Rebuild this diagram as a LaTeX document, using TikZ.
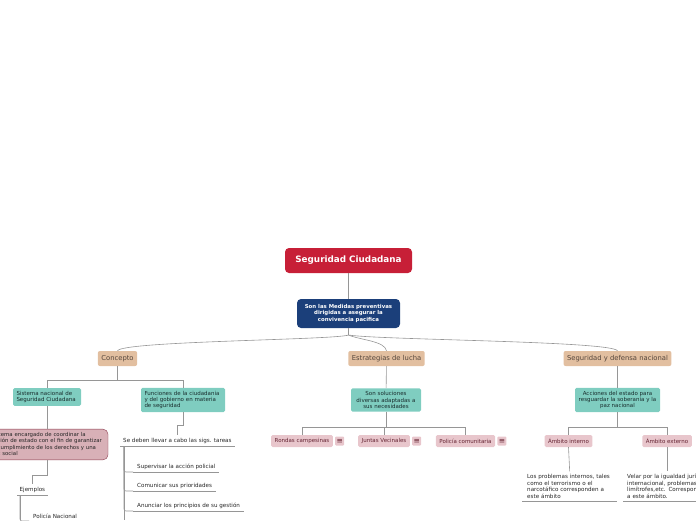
\documentclass[tikz,border=0pt]{standalone}
\usepackage{fontspec}
\setmainfont{DejaVu Sans}
\usepackage{tikz}
\usetikzlibrary{positioning}
\definecolor{rootred}{RGB}{199,31,55}
\definecolor{ideablue}{RGB}{27,63,122}
\definecolor{topicbeige}{RGB}{226,191,160}
\definecolor{topictext}{RGB}{85,70,60}
\definecolor{subteal}{RGB}{127,205,192}
\definecolor{subtext}{RGB}{25,45,45}
\definecolor{tagpink}{RGB}{232,198,204}
\definecolor{tagtext}{RGB}{100,35,50}
\definecolor{notepink}{RGB}{216,176,183}
\definecolor{notedraw}{RGB}{140,60,80}
\definecolor{linkgray}{RGB}{150,150,150}
\tikzset{
  root/.style={rectangle, rounded corners=4pt, fill=rootred, text=white,
               font=\bfseries\fontsize{8.8}{10}\selectfont, minimum width=127pt, minimum height=25pt, inner sep=0pt},
  idea/.style={rectangle, rounded corners=4pt, fill=ideablue, text=white, align=center,
               font=\bfseries\fontsize{5.4}{6.5}\selectfont, minimum width=103pt, minimum height=29pt, inner sep=0pt},
  topic/.style={rectangle, rounded corners=2pt, fill=topicbeige, text=topictext,
                font=\fontsize{6.8}{7.5}\selectfont, minimum height=15pt, inner xsep=3.5pt, inner ysep=0pt},
  subtopic/.style={rectangle, rounded corners=1.5pt, fill=subteal, text=subtext,
                   font=\fontsize{5.5}{6.4}\selectfont, inner xsep=3.5pt, inner ysep=3.1pt},
  tag/.style={rectangle, rounded corners=1.5pt, fill=tagpink, text=tagtext,
              font=\fontsize{5.5}{6}\selectfont, minimum height=12pt, inner xsep=3.5pt, inner ysep=0pt},
  tagicon/.style={rectangle, rounded corners=1pt, fill=tagpink, text=tagtext,
                  font=\fontsize{7.5}{7.5}\selectfont, minimum size=9pt, inner sep=0pt},
  note/.style={rectangle, rounded corners=5pt, fill=notepink, draw=notedraw, text=black!85, align=left,
               font=\fontsize{5.4}{6.5}\selectfont, inner xsep=4pt, inner ysep=3pt},
  leaf/.style={anchor=south west, inner xsep=4pt, inner ysep=2.5pt, text=black!85, align=left,
               font=\fontsize{5.6}{6.6}\selectfont,
               append after command={(\tikzlastnode.south west) edge[leafline] (\tikzlastnode.south east)}},
  leafline/.style={draw=linkgray, line width=0.6pt},
  link/.style={draw=linkgray, line width=0.6pt},
}
\begin{document}
\begin{tikzpicture}[x=1pt, y=-1pt]
  \useasboundingbox (0,0) rectangle (696,520);
  \clip (0,0) rectangle (696,520);

  % --- Centre ---
  \node[root] (root) at (348.5,260.5) {Seguridad Ciudadana};
  \node[idea] (idea) at (348.5,313.5) {Son las Medidas preventivas\\ dirigidas a asegurar la\\ convivencia pacifica};
  \coordinate (fork) at (348.5,335);

  % --- Main topics ---
  \node[topic] (concepto)    at (117.5,358.5) {Concepto};
  \node[topic] (estrategias) at (386.5,358.5) {Estrategias de lucha};
  \node[topic] (defensa)     at (617.5,358.5) {Seguridad y defensa nacional};

  % --- Concepto ---
  \node[subtopic, text width=61pt, align=left] (sistema) at (47,397)
        {Sistema nacional de\\ Seguridad Ciudadana};
  \node[subtopic, text width=77pt, align=left] (funciones) at (183,400)
        {Funciones de la ciudadania\\ y del gobierno en materia\\ de seguridad};
  \node[note, text width=113pt] (coordinar) at (47.5,444.5)
        {Sistema encargado de coordinar la\\ acción de estado con el fin de garantizar\\ el cumplimiento de los derechos y una\\ paz social};
  \node[leaf, inner xsep=2.5pt] (ejemplos) at (17,495) {Ejemplos};
  \node[leaf] (policia) at (29,521) {Policía Nacional};
  \node[leaf, inner xsep=3pt] (tareas) at (120,446) {Se deben llevar a cabo las sigs. tareas};
  \node[leaf] (supervisar) at (133,472) {Supervisar la acción policial};
  \node[leaf] (comunicar)  at (133,491) {Comunicar sus prioridades};
  \node[leaf] (anunciar)   at (133,511) {Anunciar los principios de su gestión};
  \coordinate (tareasend) at (124,520);
  \coordinate (ejemplosend) at (20,520);

  % --- Estrategias de lucha ---
  \node[subtopic, text width=63pt, align=center] (soluciones) at (386,400)
        {Son soluciones\\ diversas adaptadas a\\ sus necesidades};
  \node[tag] (rondas)      at (302,441)   {Rondas campesinas};
  \node[tag] (juntas)      at (384,441)   {Juntas Vecinales};
  \node[tag] (comunitaria) at (465.5,441) {Policía comunitaria};
  \node[tagicon, right=2pt of rondas]      (rondasicon) {≡};
  \node[tagicon, right=2pt of juntas]      (juntasicon) {≡};
  \node[tagicon, right=2pt of comunitaria] (comunitariaicon) {≡};

  % --- Seguridad y defensa nacional ---
  \node[subtopic, text width=80pt, inner xsep=2.5pt, align=center] (acciones) at (617.5,400)
        {Acciones del estado para\\ resguardar la soberanía y la\\ paz nacional};
  \node[tag] (interno) at (568.5,441) {Ámbito interno};
  \node[tag] (externo) at (667,441)   {Ámbito externo};
  \node[leaf, inner xsep=5pt, text width=85pt] (internos) at (522,501)
        {Los problemas internos, tales\\ como el terrorismo o el\\ narcotáfico corresponden a\\ este ámbito};
  \node[leaf, text width=100pt] (velar) at (623,501)
        {Velar por la igualdad jurídica\\ internacional, problemas\\ limítrofes,etc. Corresponden\\ a este ámbito.};

  % --- Connectors ---
  \draw[link] (root) -- (idea);
  \draw[link] (idea.south) -- (fork);
  \draw[link] (fork) .. controls (335,340) and (122,341) .. (concepto.north);
  \draw[link] (fork) .. controls (360,340) and (385,341) .. (estrategias.north);
  \draw[link] (fork) .. controls (380,340) and (612,341) .. (defensa.north);

  \draw[link] (concepto.south) -- ++(0,14) -| (sistema.north);
  \draw[link] (concepto.south) -- ++(0,14) -| (funciones.north);
  \draw[link] (sistema.south) -- (sistema.south |- coordinar.north);
  \draw[link] (sistema.south |- coordinar.south) -- ++(0,15) -| (ejemplos.north);
  \draw[link] ([xshift=3pt]ejemplos.south west) -- (ejemplosend);
  \draw[link, rounded corners=2pt] ([xshift=3pt]ejemplos.south west) |- (policia.south west);
  \draw[link] (funciones.south) -- ++(0,13) -| (tareas.north);
  \draw[link] ([xshift=4pt]tareas.south west) -- (tareasend);
  \foreach \n in {supervisar, comunicar, anunciar}
    \draw[link, rounded corners=2pt] ([xshift=4pt]tareas.south west) |- (\n.south west);

  \draw[link] (estrategias) -- (soluciones);
  \foreach \n in {rondas, juntas, comunitaria}
    \draw[link] (soluciones.south) -- ++(0,15) -| (\n.north);

  \draw[link] (defensa) -- (acciones);
  \foreach \n in {interno, externo}
    \draw[link] (acciones.south) -- ++(0,15) -| (\n.north);
  \draw[link] (interno.south) -- (internos.north);
  \draw[link] (externo.south) -- (externo.south |- velar.north);

\end{tikzpicture}
\end{document}
